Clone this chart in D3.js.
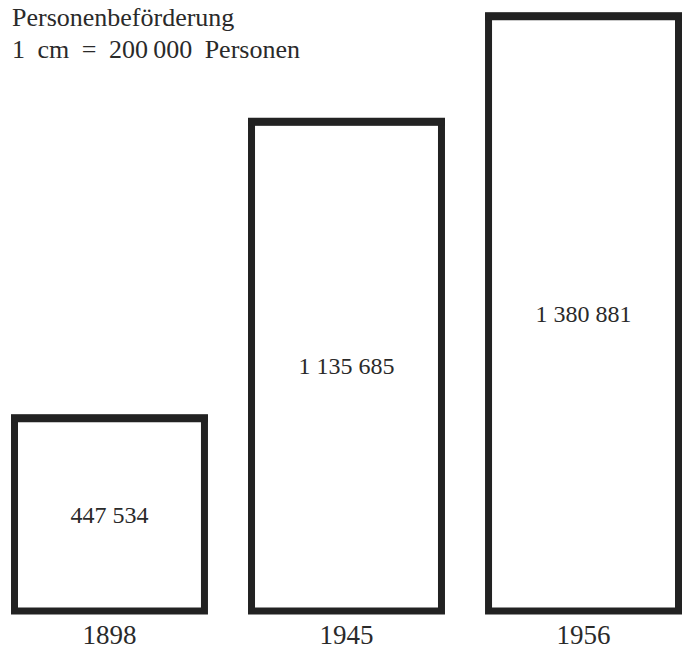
<!DOCTYPE html>
<html>
<head>
<meta charset="utf-8">
<title>Personenbeförderung</title>
<script src="https://d3js.org/d3.v7.min.js"></script>
<style>
body { margin: 0; background: #fff; }
</style>
</head>
<body>
<div id="chart"></div>
<script>
var years = ["1898", "1945", "1956"];
var persons = [447534, 1135685, 1380881];
var valueLabels = ["447 534", "1 135 685", "1 380 881"];

var width = 689, height = 654, sw = 7;
var serif = "'Liberation Serif', 'Times New Roman', 'DejaVu Serif', serif";

var svg = d3.select("#chart").append("svg")
    .attr("width", width).attr("height", height)
    .style("font-family", serif);

var x = d3.scaleBand().domain(years).range([11, 682]).paddingInner(0.169).paddingOuter(0);
var y = d3.scaleLinear().domain([0, 1400000]).range([611, 8]);

// title
svg.append("text").attr("x", 12).attr("y", 26).style("font-size", "26px").style("fill", "#2a2a2a")
    .text("Personenbeförderung");
svg.append("text").attr("x", 12).attr("y", 58).style("font-size", "26px").style("fill", "#2a2a2a")
    .style("word-spacing", "6px")
    .text("1 cm = 200\u2009000 Personen");

var bars = svg.selectAll("g.bar")
    .data(years.map(function(d, i) { return {year: d, value: persons[i], label: valueLabels[i]}; }))
    .enter().append("g").attr("class", "bar");

bars.append("rect")
    .attr("x", function(d) { return x(d.year) + sw / 2; })
    .attr("y", function(d) { return y(d.value); })
    .attr("width", x.bandwidth() - sw)
    .attr("height", function(d) { return y(0) - y(d.value); })
    .attr("fill", "none")
    .attr("stroke", "#222")
    .attr("stroke-width", sw);

// top edge is a bit heavier
bars.append("line")
    .attr("x1", function(d) { return x(d.year); })
    .attr("x2", function(d) { return x(d.year) + x.bandwidth(); })
    .attr("y1", function(d) { return y(d.value); })
    .attr("y2", function(d) { return y(d.value); })
    .attr("stroke", "#222").attr("stroke-width", 8);

bars.append("text")
    .attr("x", function(d) { return x(d.year) + x.bandwidth() / 2; })
    .attr("y", function(d) { return (y(d.value) + y(0)) / 2 + 8; })
    .attr("text-anchor", "middle")
    .style("font-size", "24px").style("fill", "#2a2a2a")
    .text(function(d) { return d.label; });

bars.append("text")
    .attr("x", function(d) { return x(d.year) + x.bandwidth() / 2; })
    .attr("y", 644)
    .attr("text-anchor", "middle")
    .style("font-size", "27px").style("fill", "#2a2a2a")
    .text(function(d) { return d.year; });
</script>
</body>
</html>
